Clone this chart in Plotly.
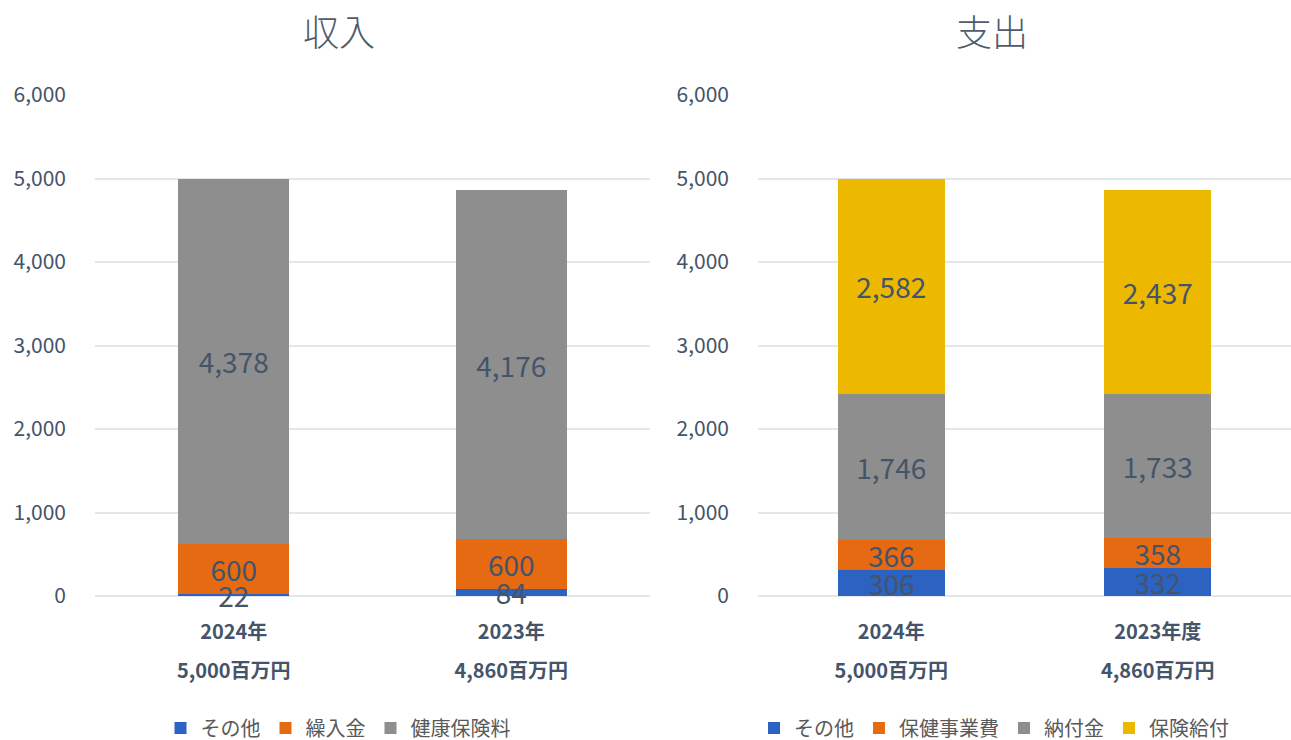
import plotly.graph_objects as go

# ---- data ----
years_in = ["2024年", "2023年"]
years_out = ["2024年", "2023年度"]

income_other = [22, 84]          # その他
income_transfer = [600, 600]     # 繰入金
income_premium = [4378, 4176]    # 健康保険料

exp_other = [306, 332]           # その他
exp_health = [366, 358]          # 保健事業費
exp_levy = [1746, 1733]          # 納付金
exp_benefit = [2582, 2437]       # 保険給付

y_ticks = [0, 1000, 2000, 3000, 4000, 5000, 6000]

# ---- style ----
FONT = "Noto Sans CJK JP"
TXT = "#44546A"
C_BLUE = "#2C62C2"
C_ORANGE = "#E66A12"
C_GRAY = "#8E8E8E"
C_GOLD = "#ECB800"
GRID = "#E3E6EB"

inc_tot = [a + b + c for a, b, c in zip(income_other, income_transfer, income_premium)]
exp_tot = [a + b + c + d for a, b, c, d in zip(exp_other, exp_health, exp_levy, exp_benefit)]

fig = go.Figure()


def add_bar(x, y, name, color, xa, ya, legend):
    # coloured bar (no text)
    fig.add_trace(go.Bar(
        x=x, y=y, name=name, marker=dict(color=color, line=dict(width=0)),
        xaxis=xa, yaxis=ya, legend=legend, hoverinfo="x+y+name",
    ))


def add_label(x, y, xa, ya):
    # transparent twin bar on the overlaid axis carrying the data label, so
    # every label sits above all coloured bars
    fig.add_trace(go.Bar(
        x=x, y=y, marker=dict(color="rgba(0,0,0,0)", line=dict(width=0)),
        xaxis=xa, yaxis=ya, showlegend=False, hoverinfo="skip",
        texttemplate="%{y:,}", textposition="inside", insidetextanchor="middle",
        textangle=0, insidetextfont=dict(family=FONT, size=28, color=TXT),
        cliponaxis=False,
    ))


income = [(income_other, "その他", C_BLUE), (income_transfer, "繰入金", C_ORANGE),
          (income_premium, "健康保険料", C_GRAY)]
expense = [(exp_other, "その他", C_BLUE), (exp_health, "保健事業費", C_ORANGE),
           (exp_levy, "納付金", C_GRAY), (exp_benefit, "保険給付", C_GOLD)]

for vals, name, col in income:
    add_bar(years_in, vals, name, col, "x", "y", "legend")
for vals, name, col in expense:
    add_bar(years_out, vals, name, col, "x2", "y2", "legend2")
for vals, _, _ in income:
    add_label(years_in, vals, "x3", "y")
for vals, _, _ in expense:
    add_label(years_out, vals, "x4", "y2")

dom1 = [95 / 1291, 650 / 1291]
dom2 = [758 / 1291, 1.0]

tickfont_cat = dict(family=FONT, size=20, color=TXT, weight="bold")

xa_common = dict(showgrid=False, zeroline=False, showline=False, ticks="",
                 tickfont=tickfont_cat, range=[-0.5, 1.5], fixedrange=True,
                 type="category")
ya_common = dict(range=[0, 6000], tickvals=y_ticks, tickformat=",", showgrid=True,
                 gridcolor=GRID, gridwidth=1.5, zeroline=True, zerolinecolor=GRID,
                 zerolinewidth=1.5, showline=False, ticks="",
                 tickfont=dict(family=FONT, size=21, color=TXT),
                 ticklabelstandoff=28, automargin=False, fixedrange=True)

fig.update_layout(
    width=1291, height=740,
    margin=dict(l=0, r=0, t=95, b=144),
    paper_bgcolor="white", plot_bgcolor="white",
    barmode="stack", bargap=0.6,
    uniformtext=dict(minsize=28, mode="show"),
    font=dict(family=FONT, color=TXT),
    xaxis=dict(domain=dom1, anchor="y", ticklabelstandoff=22, **xa_common),
    xaxis2=dict(domain=dom2, anchor="y2", ticklabelstandoff=22, **xa_common),
    xaxis3=dict(overlaying="x", anchor="y", tickmode="array",
                tickvals=years_in, ticktext=[f"{t:,}百万円" for t in inc_tot],
                ticklabelstandoff=61, **xa_common),
    xaxis4=dict(overlaying="x2", anchor="y2", tickmode="array",
                tickvals=years_out, ticktext=[f"{t:,}百万円" for t in exp_tot],
                ticklabelstandoff=61, **xa_common),
    yaxis=dict(domain=[0, 1], anchor="x", **ya_common),
    yaxis2=dict(domain=[0, 1], anchor="x2", **ya_common),
    legend=dict(orientation="h", x=338 / 1291, xanchor="center", xref="paper",
                y=1 - 728 / 740, yref="container", yanchor="middle",
                font=dict(family=FONT, size=20, color="#595959"), traceorder="normal",
                itemclick=False),
    legend2=dict(orientation="h", x=994 / 1291, xanchor="center", xref="paper",
                 y=1 - 728 / 740, yref="container", yanchor="middle",
                 font=dict(family=FONT, size=20, color="#595959"), traceorder="normal",
                 itemclick=False),
    annotations=[
        dict(text="収入", xref="x domain", x=(339 - 95) / (650 - 95), yref="paper",
             y=1.13, yanchor="middle", showarrow=False,
             font=dict(family=FONT, size=36, color="#4F5B6B", weight=300)),
        dict(text="支出", xref="x2 domain", x=(992 - 758) / (1291 - 758), yref="paper",
             y=1.13, yanchor="middle", showarrow=False,
             font=dict(family=FONT, size=36, color="#4F5B6B", weight=300)),
    ],
)

fig.write_html("out.html", post_script="document.body.style.margin='0';",
               config={"displayModeBar": False})
